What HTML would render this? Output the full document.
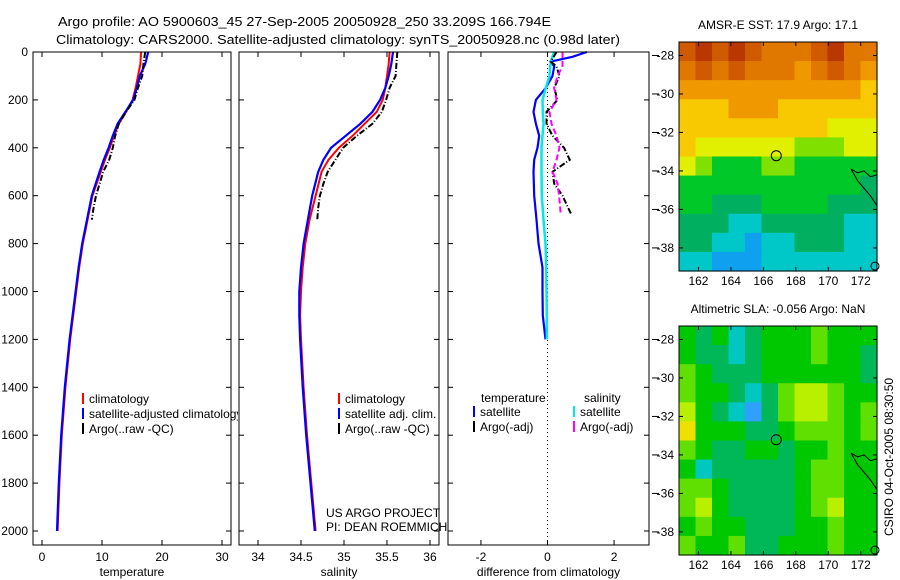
<!DOCTYPE html>
<html><head><meta charset="utf-8"><style>
html,body{margin:0;padding:0;background:#fff;}
svg{display:block;font-family:"Liberation Sans",Arial,sans-serif;}
</style></head><body>
<svg id="fig" width="900" height="580" viewBox="0 0 900 580" xmlns="http://www.w3.org/2000/svg">
<rect width="900" height="580" fill="#fff"/>
<text x="58" y="26" font-size="13" textLength="493" lengthAdjust="spacingAndGlyphs">Argo profile: AO 5900603_45 27-Sep-2005 20050928_250 33.209S 166.794E</text>
<text x="56" y="44" font-size="13" textLength="564" lengthAdjust="spacingAndGlyphs">Climatology: CARS2000. Satellite-adjusted climatology: synTS_20050928.nc (0.98d later)</text>
<g id="g"></g>
</svg>
<script>
// ---- Profile data ----
const depthTicks=[0,200,400,600,800,1000,1200,1400,1600,1800,2000];
const climDepth=[0,50,100,150,200,250,300,350,400,450,500,600,700,800,900,1000,1100,1200,1400,1600,1800,2000];
const climTemp=[16.5,16.4,16.0,15.6,15.1,14.0,12.8,12.0,11.3,10.5,9.8,8.4,7.6,6.8,6.2,5.7,5.2,4.7,3.9,3.3,2.9,2.6];
const satTemp=[17.7,17.2,16.3,15.8,15.2,13.9,12.6,11.8,11.1,10.3,9.6,8.3,7.5,6.7,6.1,5.6,5.1,4.6,3.8,3.2,2.8,2.5];
const climSal=[35.53,35.52,35.50,35.48,35.45,35.38,35.24,35.10,34.94,34.82,34.74,34.67,34.60,34.55,34.52,34.50,34.49,34.50,34.53,34.57,34.62,34.67];
const satSal=[35.57,35.55,35.52,35.48,35.42,35.33,35.19,35.02,34.85,34.76,34.70,34.63,34.58,34.53,34.50,34.48,34.48,34.49,34.52,34.56,34.61,34.66];
const argoDepth=[0,50,100,150,200,250,300,350,400,450,500,550,600,650,700];
const argoTemp=[17.2,16.9,16.7,16.0,15.4,14.0,12.8,12.2,11.8,11.2,10.2,9.6,9.0,8.6,8.3];
const argoSal=[35.62,35.61,35.60,35.53,35.49,35.44,35.33,35.15,34.99,34.90,34.81,34.76,34.72,34.70,34.69];
const diffDepth=[0,20,40,60,100,150,200,250,300,350,400,450,500,600,700,800,900,1000,1100,1200];
const diffTempSat=[1.18,0.75,0.1,0.2,0.15,-0.05,-0.35,-0.42,-0.35,-0.25,-0.3,-0.4,-0.42,-0.4,-0.33,-0.27,-0.15,-0.15,-0.14,-0.06];
const diffSalSat=[0.2,0.15,0.1,0.08,0.06,-0.05,-0.15,-0.14,-0.12,-0.15,-0.18,-0.18,-0.18,-0.17,-0.12,-0.06,-0.04,-0.03,-0.02,-0.02];
const argoDiffDepth=[0,40,60,100,150,200,250,300,350,400,450,500,550,600,680];
const diffTempArgo=[0.27,0.1,0.27,0.36,0.2,0.3,-0.03,-0.03,0.15,0.5,0.67,0.15,0.2,0.45,0.72];
const diffSalArgo=[0.45,0.45,0.45,0.3,0.2,0.27,0.06,0.12,0.27,0.36,0.27,0.15,0.3,0.35,0.4];
const tempTicks=[0,10,20,30];
const salTicks=[34,34.5,35,35.5,36];
const diffTicks=[-2,0,2];
// ---- Map data ----
const mapLonTicks=[162,164,166,168,170,172];
const mapLatTicks=[-28,-30,-32,-34,-36,-38];
const sstGrid=[
[9,10,9,10,9,8,8,8,9,10,8,8],
[8,9,8,9,8,8,8,7,8,9,8,7],
[7,7,7,7,7,7,7,7,7,7,7,6],
[6,6,6,7,7,7,6,6,6,6,6,6],
[6,6,6,6,6,6,6,6,6,5,5,5],
[6,5,5,5,5,5,5,4,4,4,5,5],
[5,4,3,3,3,4,4,3,3,3,3,3],
[3,3,3,3,3,3,3,3,3,3,3,2],
[3,3,2,2,2,3,3,3,3,2,2,2],
[2,2,2,1,1,2,2,2,2,2,1,1],
[2,2,1,1,0,1,1,2,2,2,1,1],
[1,1,0,0,0,1,1,1,1,1,1,1]];
const slaGrid=[
[3,2,3,1,2,3,3,3,4,3,3,3],
[3,2,2,1,2,3,3,3,4,3,3,2],
[4,3,2,2,2,3,3,3,3,3,3,2],
[4,3,3,2,1,2,4,5,5,4,3,3],
[5,3,2,1,0,2,4,5,5,4,3,4],
[6,3,3,3,2,2,3,4,4,4,3,4],
[4,3,2,2,3,3,2,3,3,4,3,3],
[3,1,2,2,2,2,2,3,4,4,3,3],
[4,4,3,2,2,2,2,3,4,4,3,3],
[4,5,3,2,2,2,2,3,4,5,3,3],
[3,4,3,3,2,2,2,3,3,4,3,3],
[4,3,3,4,2,2,3,3,3,4,3,3]];
const sstColors=["#10a0f0","#00c8c8","#00b060","#00c828","#80e000","#e0f000","#f8c800","#f09800","#e07800","#d05a00","#b83800"];
const slaColors=["#30a0ff","#00c8c0","#00b858","#00c800","#60e000","#b8f000","#f0e000"];
const argoLon=166.794, argoLat=-33.209;

const NS="http://www.w3.org/2000/svg";
const G=document.getElementById('g');
function el(tag,attrs,parent,txt){const e=document.createElementNS(NS,tag);for(const k in attrs)e.setAttribute(k,attrs[k]);if(txt!==undefined)e.textContent=txt;(parent||G).appendChild(e);return e;}

const TOP=52, BOT=545;
const yD=d=>TOP+d*0.2395;
const panels=[
 {name:'temperature',x0:33,x1:231,dmin:-1.5,dmax:31.5,ticks:tempTicks,label:'temperature'},
 {name:'salinity',x0:239,x1:439,dmin:33.779,dmax:36.105,ticks:salTicks,label:'salinity'},
 {name:'difference',x0:448,x1:649,dmin:-2.99,dmax:3.05,ticks:diffTicks,label:'difference from climatology'}];
panels.forEach(p=>{p.x=v=>p.x0+(v-p.dmin)/(p.dmax-p.dmin)*(p.x1-p.x0);});

function line(p,depths,vals,color,w,dash,name){
  const pts=depths.map((d,i)=>p.x(vals[i]).toFixed(1)+','+yD(d).toFixed(1)).join(' ');
  const e=el('polyline',{points:pts,fill:'none',stroke:color,'stroke-width':w});
  if(dash)e.setAttribute('stroke-dasharray',dash);
  
  
}

panels.forEach((p,pi)=>{
  const g=el('g',{});
  
  
  p.ticks.forEach(t=>{
    const x=p.x(t);
    el('line',{x1:x,y1:TOP,x2:x,y2:TOP+5,stroke:'#000'},g);
    el('line',{x1:x,y1:BOT,x2:x,y2:BOT-5,stroke:'#000'},g);
    const lab=el('text',{x:x,y:561,'font-size':12,'text-anchor':'middle'},g,String(t));
    
    
  });
  depthTicks.forEach(d=>{
    const y=yD(d);
    el('line',{x1:p.x0,y1:y,x2:p.x0+5,y2:y,stroke:'#000'},g);
    el('line',{x1:p.x1,y1:y,x2:p.x1-5,y2:y,stroke:'#000'},g);
    if(pi===0){const t=el('text',{x:28,y:y+4,'font-size':12,'text-anchor':'end'},g,String(d));
      
      }
  });
  const at=el('text',{x:(p.x0+p.x1)/2,y:576,'font-size':12,'text-anchor':'middle'},g,p.label);
  
  
});

const [P1,P2,P3]=panels;
el('line',{x1:P3.x(0),y1:TOP,x2:P3.x(0),y2:BOT,stroke:'#000','stroke-dasharray':'1,3'});
line(P1,climDepth,climTemp,'#f00',2,null,'temp-climatology-line');
line(P1,climDepth,satTemp,'#00f',2.2,null,'temp-satellite-line');
line(P1,argoDepth,argoTemp,'#000',2,'6,2,1,2','temp-argo-line');
line(P2,climDepth,climSal,'#f00',2,null,'sal-climatology-line');
line(P2,climDepth,satSal,'#00f',2.2,null,'sal-satellite-line');
line(P2,argoDepth,argoSal,'#000',2,'6,2,1,2','sal-argo-line');
line(P3,diffDepth,diffTempSat,'#00f',2.2,null,'temp-diff-satellite-line');
line(P3,diffDepth,diffSalSat,'#00e8e8',2.5,null,'sal-diff-satellite-line');
line(P3,argoDiffDepth,diffTempArgo,'#000',2,'6,2,1,2','temp-diff-argo-line');
line(P3,argoDiffDepth,diffSalArgo,'#f0f',2,'6,3','sal-diff-argo-line');

panels.forEach(p=>{el('rect',{x:p.x0,y:TOP,width:p.x1-p.x0,height:BOT-TOP,fill:'none',stroke:'#000'});});

function leg(x,y,color,txt,name,clip){
  const g=el('g',{});
  
  
  el('rect',{x:x,y:y-10,width:2,height:11,fill:color},g);
  const t=el('text',{x:x+7,y:y,'font-size':12},g,txt);
  if(clip)t.setAttribute('clip-path','url(#cp1)');
}
const defs=el('defs',{});
const cp=el('clipPath',{id:'cp1'},defs);el('rect',{x:0,y:0,width:238,height:580},cp);
leg(82,403,'#f00','climatology','legend-climatology');
leg(82,418,'#00f','satellite-adjusted climatology','legend-satellite-adjusted',true);
leg(82,433,'#000','Argo(..raw -QC)','legend-argo');
leg(338,403,'#f00','climatology','legend2-climatology');
leg(338,418,'#00f','satellite adj. clim.','legend2-satellite');
leg(338,433,'#000','Argo(..raw -QC)','legend2-argo');
el('text',{x:481,y:402,'font-size':12},G,'temperature');
el('text',{x:584,y:402,'font-size':12},G,'salinity');
leg(473,416,'#00f','satellite','legend3-temp-satellite');
leg(473,431,'#000','Argo(-adj)','legend3-temp-argo');
leg(573,416,'#00e8e8','satellite','legend3-sal-satellite');
leg(573,431,'#f0f','Argo(-adj)','legend3-sal-argo');
el('text',{x:326,y:517,'font-size':12},G,'US ARGO PROJECT');
el('text',{x:326,y:531,'font-size':12},G,'PI: DEAN ROEMMICH');

const MX0=679,MX1=877,LON0=160.8,LON1=173,LAT0=-27.3,LAT1=-39.2;
function drawMap(top,grid,colors,title,name){
  const h=229;
  const lx=lon=>MX0+(lon-LON0)/(LON1-LON0)*(MX1-MX0);
  const ly=lat=>top+(lat-LAT0)/(LAT1-LAT0)*h;
  const g=el('g',{});
  
  
  const rows=grid.length,cols=grid[0].length;
  const cw=(MX1-MX0)/cols,ch=h/rows;
  grid.forEach((r,i)=>r.forEach((v,j)=>{
    const c=el('rect',{x:(MX0+j*cw).toFixed(2),y:(top+i*ch).toFixed(2),width:(cw+0.6).toFixed(2),height:(ch+0.6).toFixed(2),fill:colors[v]},g);
    
    
  }));
  const coast=[[171.4,-33.9],[171.8,-34.1],[172.2,-34.0],[172.6,-34.3],[173,-34.2],[173,-35.8],[172.6,-35.3],[172.2,-34.9],[171.8,-34.5],[171.4,-33.9]];
  el('polyline',{points:coast.map(c=>lx(c[0])+','+ly(c[1])).join(' '),fill:'none',stroke:'#000','stroke-width':1},g);
  el('circle',{cx:lx(173)-2,cy:ly(-39.1)-3,r:4,fill:'none',stroke:'#000'},g);
  el('circle',{cx:lx(argoLon),cy:ly(argoLat),r:5,fill:'none',stroke:'#000'},g);
  el('rect',{x:MX0,y:top,width:MX1-MX0,height:h,fill:'none',stroke:'#000'},g);
  mapLonTicks.forEach(l=>{const x=lx(l);
    el('line',{x1:x,y1:top,x2:x,y2:top+4,stroke:'#000'},g);
    el('line',{x1:x,y1:top+h,x2:x,y2:top+h-4,stroke:'#000'},g);
    el('text',{x:x,y:top+h+14,'font-size':12,'text-anchor':'middle'},g,String(l));});
  mapLatTicks.forEach(l=>{const y=ly(l);
    el('line',{x1:MX0,y1:y,x2:MX0+4,y2:y,stroke:'#000'},g);
    el('line',{x1:MX1,y1:y,x2:MX1-4,y2:y,stroke:'#000'},g);
    el('line',{x1:652,y1:y,x2:659,y2:y,stroke:'#000'});
    el('text',{x:MX0-5,y:y+4,'font-size':12,'text-anchor':'end'},g,'-'+String(Math.abs(l)));});
  const t=el('text',{x:(MX0+MX1)/2,y:top-13,'font-size':12,'text-anchor':'middle'},g,title);
  
  
}
drawMap(42,sstGrid,sstColors,'AMSR-E SST: 17.9 Argo: 17.1','sst-map');
drawMap(326,slaGrid,slaColors,'Altimetric SLA: -0.056 Argo: NaN','sla-map');
const ts=el('text',{x:0,y:0,'font-size':12,'text-anchor':'middle',transform:'translate(893,457) rotate(-90)'},G,'CSIRO 04-Oct-2005 08:30:50');


</script>
</body></html>
